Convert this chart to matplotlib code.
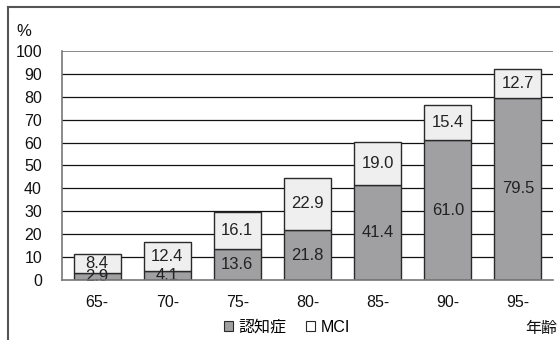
import matplotlib
matplotlib.use("Agg")
import matplotlib.pyplot as plt
from matplotlib.patches import Patch
from matplotlib.lines import Line2D

plt.rcParams['font.family'] = ['Liberation Sans', 'Noto Sans CJK JP', 'DejaVu Sans']

categories = ["65-", "70-", "75-", "80-", "85-", "90-", "95-"]
dementia = [2.9, 4.1, 13.6, 21.8, 41.4, 61.0, 79.5]
mci = [8.4, 12.4, 16.1, 22.9, 19.0, 15.4, 12.7]
yticks = [0, 10, 20, 30, 40, 50, 60, 70, 80, 90, 100]
series_names = ["認知症", "MCI"]

dark = "#a0a0a3"
light = "#efefef"
edge = "#2a2a2a"

fig = plt.figure(figsize=(5.6, 3.4), dpi=100)
ax = fig.add_axes([62/560, 60/340, (553-62)/560, (280-51)/340])

x = list(range(len(categories)))
w = 0.67
for yv in yticks[1:-1]:
    ax.axhline(yv, color="#111111", lw=0.9, zorder=1)
ax.axhline(100, color="#777777", lw=1.2, zorder=1)

ax.bar(x, dementia, width=w, color=dark, edgecolor=edge, lw=1.0, zorder=3)
ax.bar(x, mci, width=w, bottom=dementia, color=light, edgecolor=edge, lw=1.0, zorder=3)

for i in x:
    ax.text(i, dementia[i] / 2, f"{dementia[i]:.1f}", ha="center", va="center",
            fontsize=12, color="#222222", zorder=4)
    ax.text(i, dementia[i] + mci[i] / 2, f"{mci[i]:.1f}", ha="center", va="center",
            fontsize=12, color="#222222", zorder=4)

ax.set_xlim(-0.5, len(categories) - 0.5)
ax.set_ylim(0, 100)
ax.set_yticks(yticks)
ax.set_yticklabels([str(v) for v in yticks], fontsize=11.5, color="#111111")
ax.set_xticks(x)
ax.set_xticklabels(categories, fontsize=11.5, color="#111111")
ax.tick_params(axis="y", length=0, pad=14.4)
ax.tick_params(axis="x", length=0, pad=10.5)
for s in ["top", "right"]:
    ax.spines[s].set_visible(False)
ax.spines["left"].set_color("#777777")
ax.spines["left"].set_linewidth(1.2)
ax.spines["bottom"].set_color("#777777")
ax.spines["bottom"].set_linewidth(1.2)
ax.spines["bottom"].set_zorder(5)

# outer frame (left and top edges visible)
fig.add_artist(Line2D([8/560, 8/560], [0, 1 - 7/340], transform=fig.transFigure,
                      color="#555555", lw=1.5))
fig.add_artist(Line2D([8/560, 1], [1 - 7/340, 1 - 7/340], transform=fig.transFigure,
                      color="#555555", lw=1.5))

fig.text(16/560, 1 - 32/340, "%", fontsize=12, va="center", ha="left", color="#111111")
fig.text(557/560, 1 - 328/340, "年齢", fontsize=11.5, va="center", ha="right", color="#111111")

handles = [Patch(facecolor=dark, edgecolor=edge, lw=0.8),
           Patch(facecolor="white", edgecolor=edge, lw=0.8)]
fig.legend(handles, series_names, loc="center", bbox_to_anchor=(287/560, 1 - 327/340),
           ncol=2, frameon=False, fontsize=11.5, handlelength=0.6, handleheight=0.6,
           handletextpad=0.35, columnspacing=1.2, borderpad=0)

fig.savefig("out.png", dpi=100)
